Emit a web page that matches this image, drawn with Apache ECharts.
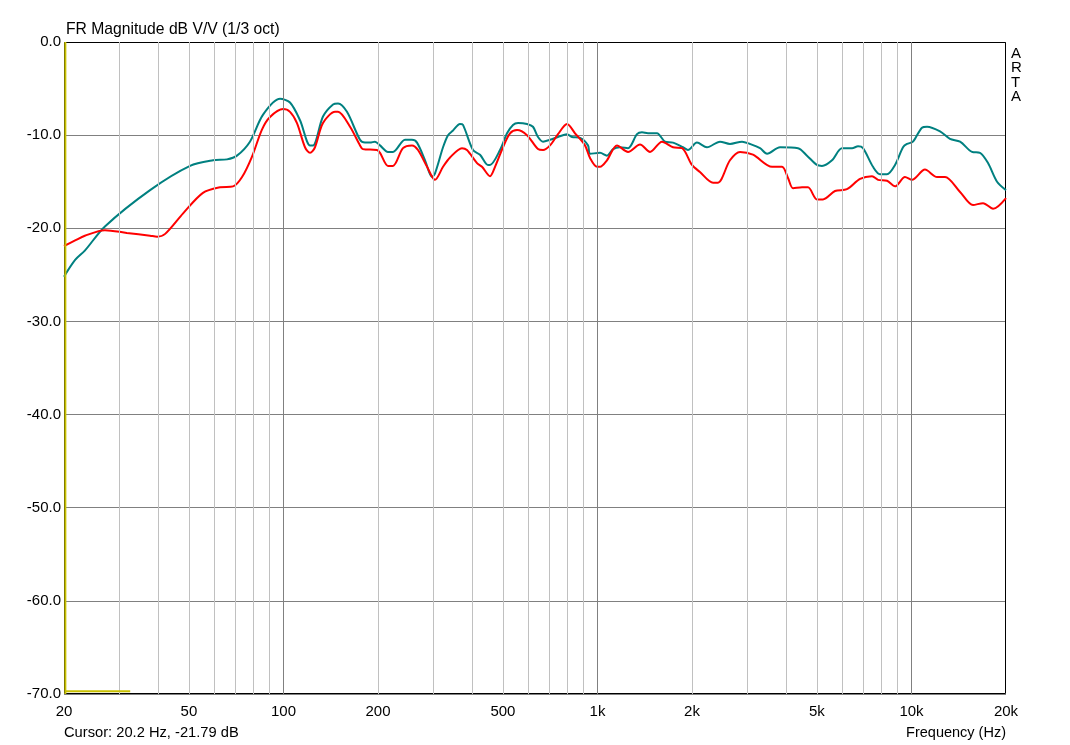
<!DOCTYPE html>
<html>
<head>
<meta charset="utf-8">
<script src="https://cdn.jsdelivr.net/npm/echarts@6/dist/echarts.min.js"></script>
<style>
html,body{margin:0;padding:0;background:#fff;}
#chart{width:1070px;height:745px;}
</style>
</head>
<body>
<div id="chart"></div>
<script>
// ---- data ----
const tealF  = [20, 21.7, 23.3, 27.0, 37.6, 50.4, 59.7, 66.1, 71.1, 78.2, 86.1, 97.5, 104.9, 112.9, 121.5, 124.2, 133.6, 143.8, 149.2, 159.3, 175.3, 181.8, 188.6, 195.6, 203, 215.2, 223.2, 243.8, 256.6, 266.2, 282.4, 297.2, 303.8, 322.2, 334.2, 346.8, 364.8, 373, 401.4, 422.6, 448, 454.8, 489.4, 515.2, 538.2, 558.4, 596.4, 623.2, 646.6, 670.8, 706, 748.6, 799.8, 829.6, 880, 933, 946.8, 1019, 1072, 1121, 1180, 1251, 1336, 1386, 1448, 1547, 1641, 1740, 1872, 1942, 2074, 2232, 2456, 2642, 2886, 3060, 3294, 3468, 3814, 4352, 4648, 5000, 5188, 5584, 6008, 6466, 6758, 7010, 7542, 7938, 8356, 8862, 9398, 9676, 10110, 10800, 11210, 12330, 13260, 14280, 15590, 16530, 17530, 18730, 20000];
const tealDb = [-25.2, -23.4, -22.4, -19.8, -15.9, -13.3, -12.7, -12.6, -12.2, -10.7, -7.8, -6.1, -6.5, -8.4, -11.1, -11.1, -8.0, -6.7, -6.6, -7.5, -10.5, -10.8, -10.8, -10.7, -11.1, -11.8, -11.8, -10.5, -10.5, -10.8, -12.7, -14.5, -14.1, -11.3, -10.0, -9.5, -8.8, -8.9, -11.6, -12.1, -13.2, -13.2, -11.6, -9.8, -8.9, -8.7, -8.8, -9.1, -10.2, -10.7, -10.5, -10.2, -9.9, -10.2, -10.3, -11.1, -12.0, -11.9, -12.2, -11.5, -11.3, -11.4, -9.9, -9.7, -9.8, -9.8, -10.7, -10.8, -11.3, -11.6, -10.8, -11.3, -10.7, -10.95, -10.7, -10.95, -11.4, -12.0, -11.3, -11.4, -12.2, -13.2, -13.3, -12.7, -11.4, -11.4, -11.2, -11.4, -13.4, -14.2, -14.2, -13.2, -11.3, -10.95, -10.7, -9.2, -9.1, -9.6, -10.4, -10.7, -11.8, -11.9, -13.0, -15.0, -15.9];

const redF  = [20, 21.7, 23.3, 27.0, 31.7, 37.6, 39.6, 42.0, 47.9, 55.4, 62.8, 69.1, 73.8, 79.4, 85.4, 90.6, 99.7, 104.9, 110.4, 117.1, 121.5, 126, 133.6, 146, 149.2, 162.9, 175.3, 179, 198.5, 203, 215.2, 223.2, 240.2, 256.6, 268.2, 286.6, 303.8, 322.2, 339.2, 370.2, 384, 413.4, 428.8, 454.8, 471.8, 500.2, 526.6, 554.4, 596.4, 646.6, 670.8, 706, 748.6, 799.8, 848.2, 912.6, 946.8, 996.6, 1019, 1072, 1154, 1251, 1366, 1470, 1605, 1740, 1859, 2000, 2120, 2334, 2420, 2642, 2844, 3128, 3596, 3870, 4044, 4196, 4482, 4682, 5000, 5226, 5708, 6232, 6856, 7488, 7826, 8356, 8862, 9536, 10040, 11040, 12060, 12790, 14280, 15700, 16900, 18190, 20000];
const redDb = [-21.9, -21.3, -20.8, -20.2, -20.5, -20.8, -20.9, -20.6, -18.4, -16.2, -15.6, -15.5, -14.5, -12.3, -9.4, -8.05, -7.2, -7.5, -8.7, -11.3, -11.9, -11.3, -8.7, -7.5, -7.5, -9.1, -11.1, -11.5, -11.6, -11.9, -13.3, -13.3, -11.4, -11.1, -11.6, -13.4, -14.8, -13.4, -12.4, -11.4, -11.6, -13.0, -13.4, -14.4, -13.4, -11.3, -9.8, -9.45, -10.0, -11.5, -11.6, -11.1, -9.9, -8.8, -9.8, -11.1, -12.45, -13.4, -13.4, -12.7, -11.1, -11.8, -11.0, -11.8, -10.7, -11.3, -11.4, -13.2, -13.96, -15.1, -15.1, -12.7, -11.8, -12.1, -13.4, -13.4, -14.6, -15.7, -15.6, -15.6, -16.9, -16.9, -16.0, -15.8, -14.7, -14.4, -14.8, -14.9, -15.5, -14.5, -14.8, -13.7, -14.5, -14.5, -16.1, -17.5, -17.3, -17.9, -16.75];

const xTickValues = [20, 50, 100, 200, 500, 1000, 2000, 5000, 10000, 20000];
const xTickLabels = ['20', '50', '100', '200', '500', '1k', '2k', '5k', '10k', '20k'];
const minorFreqs = [30, 40, 50, 60, 70, 80, 90, 200, 300, 400, 500, 600, 700, 800, 900, 2000, 3000, 4000, 5000, 6000, 7000, 8000, 9000];
const majorFreqs = [100, 1000, 10000];
const cursorF = 20.2;
const cursorHorizEndF = 32.5;
const cursorHorizDb = -69.7;

const zip = (a, b) => a.map((v, i) => [v, b[i]]);
const labelMap = {};
xTickValues.forEach((v, i) => labelMap[v] = xTickLabels[i]);

const FONT = '"Liberation Sans", Arial, sans-serif';
const chart = echarts.init(document.getElementById('chart'), null, {renderer: 'canvas'});
chart.setOption({
  animation: false,
  backgroundColor: '#ffffff',
  grid: {left: 64, top: 42, right: 64, bottom: 51, show: false},
  xAxis: {
    type: 'log', logBase: 10, min: 20, max: 20000,
    axisLine: {show: false}, axisTick: {show: false}, splitLine: {show: false},
    axisLabel: {
      customValues: xTickValues,
      formatter: v => labelMap[Math.round(v)] || '',
      color: '#000', fontFamily: FONT, fontSize: 15, margin: 10
    }
  },
  yAxis: {
    type: 'value', min: -70, max: 0, interval: 10,
    axisLine: {show: false}, axisTick: {show: false},
    splitLine: {show: true, lineStyle: {color: '#808080', width: 1}},
    axisLabel: {formatter: v => v.toFixed(1), color: '#000', fontFamily: FONT, fontSize: 15, margin: 3}
  },
  graphic: [
    {type: 'text', left: 66, top: 22, style: {text: 'FR Magnitude dB V/V (1/3 oct)', font: '15.7px ' + FONT, fill: '#000'}},
    {type: 'text', left: 1011, top: 46, style: {text: 'A\nR\nT\nA', font: '15px ' + FONT, fill: '#000', lineHeight: 14.5}},
    {type: 'text', left: 64, top: 725, style: {text: 'Cursor: 20.2 Hz, -21.79 dB', font: '14.7px ' + FONT, fill: '#000'}},
    {type: 'text', right: 64, top: 725, style: {text: 'Frequency (Hz)', font: '14.5px ' + FONT, fill: '#000', align: 'right'}},
    {type: 'rect', z: 2, silent: true, shape: {x: 64.5, y: 42.5, width: 941, height: 651}, style: {fill: 'none', stroke: '#000', lineWidth: 1}}
  ],
  series: [
    {
      name: 'grid', type: 'line', z: 1, silent: true, symbol: 'none',
      data: [[20, -70]], lineStyle: {width: 0},
      markLine: {
        silent: true, symbol: 'none', label: {show: false}, animation: false,
        data: minorFreqs.map(f => ({xAxis: f, lineStyle: {color: '#c0c0c0', width: 1, type: 'solid'}}))
          .concat(majorFreqs.map(f => ({xAxis: f, lineStyle: {color: '#808080', width: 1, type: 'solid'}})))
      }
    },
    {
      name: 'teal', type: 'line', z: 3, data: zip(tealF, tealDb), symbol: 'none', smooth: 0.3,
      lineStyle: {color: '#008080', width: 2}
    },
    {
      name: 'red', type: 'line', z: 4, data: zip(redF, redDb), symbol: 'none', smooth: 0.3,
      lineStyle: {color: '#ff0000', width: 2}
    },
    {
      name: 'cursorV', type: 'line', z: 5, data: [[cursorF, 0], [cursorF, -70]], symbol: 'none',
      lineStyle: {color: '#c8c000', width: 2}
    },
    {
      name: 'cursorH', type: 'line', z: 5, data: [[cursorF, cursorHorizDb], [cursorHorizEndF, cursorHorizDb]], symbol: 'none',
      lineStyle: {color: '#c8c000', width: 2}
    }
  ]
});
</script>
</body>
</html>
